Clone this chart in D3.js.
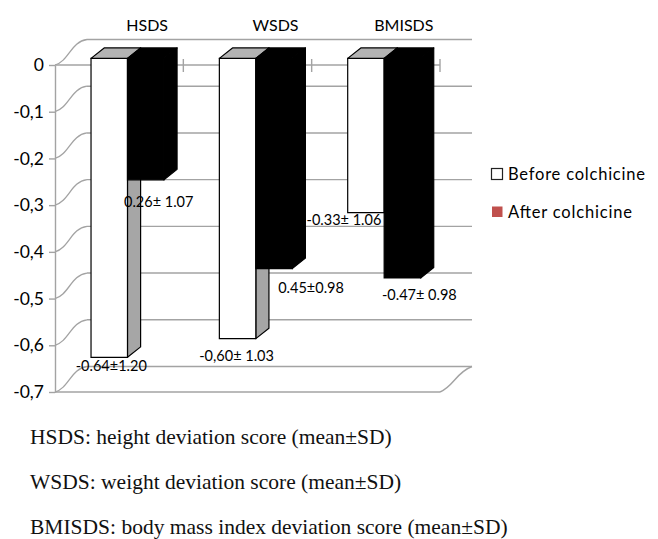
<!DOCTYPE html>
<html>
<head>
<meta charset="utf-8">
<script src="https://cdn.jsdelivr.net/npm/d3@7"></script>
<style>
  body { margin: 0; background: #fff; }
  svg { display: block; }
</style>
</head>
<body>
<svg id="chart" width="658" height="539"></svg>
<script>
// data
const categories = ["HSDS", "WSDS", "BMISDS"];
const seriesNames = ["Before colchicine", "After colchicine"];
const beforeValues = [-0.64, -0.60, -0.33];
const afterValues = [-0.26, -0.45, -0.47];
const beforeLabels = ["-0.64±1.20", "-0,60± 1.03", "-0.33± 1.06"];
const afterLabels = ["0.26± 1.07", "0.45±0.98", "-0.47± 0.98"];
const yTickValues = [0, -0.1, -0.2, -0.3, -0.4, -0.5, -0.6, -0.7];
const yTickLabels = ["0", "-0,1", "-0,2", "-0,3", "-0,4", "-0,5", "-0,6", "-0,7"];
const footnotes = [
  "HSDS: height deviation score (mean±SD)",
  "WSDS: weight deviation score (mean±SD)",
  "BMISDS: body mass index deviation score (mean±SD)"
];

const svg = d3.select("#chart");
const FONT = "Lato, 'Noto Sans', sans-serif";
const GRID = "#a3a3a3";

// 3d projection: depth t in [0,1] shifts up-right
const DX = 32;
const DY = -25.5;
const plot = { left: 55, right: 440, top: 65, bottom: 392 };

const y = d3.scaleLinear().domain([0, -0.7]).range([plot.top, plot.bottom]);
const x0 = d3.scaleBand().domain(categories).range([plot.left, plot.right]);
const x1 = d3.scaleBand().domain(seriesNames).range([0, x0.bandwidth()]).paddingOuter(0.76);

const P = (x, v, t) => [x + DX * t, y(v) + DY * t];
const poly = (pts) => "M" + pts.map((p) => p.join(",")).join("L") + "Z";

const wallG = svg.append("g");
const barsG = svg.append("g");
const labelG = svg.append("g");

// back wall gridlines
wallG.selectAll("line.back")
  .data(yTickValues)
  .join("line")
  .attr("class", "back")
  .attr("x1", (d) => P(plot.left, d, 1)[0])
  .attr("y1", (d) => P(plot.left, d, 1)[1])
  .attr("x2", (d) => P(plot.right, d, 1)[0])
  .attr("y2", (d) => P(plot.right, d, 1)[1])
  .attr("stroke", GRID)
  .attr("stroke-width", 1.4);

// side wall gridlines (slightly wavy like the original)
wallG.selectAll("path.side")
  .data(yTickValues)
  .join("path")
  .attr("class", "side")
  .attr("d", (d) => {
    const a = P(plot.left, d, 0);
    const b = P(plot.left, d, 1);
    return `M${a[0]},${a[1]}C${a[0] + 14},${a[1] - 4} ${b[0] - 16},${b[1] + 2} ${b[0]},${b[1]}`;
  })
  .attr("fill", "none")
  .attr("stroke", GRID)
  .attr("stroke-width", 1.3);

// floor at -0.7 and the front line at 0
[0, -0.7].forEach((v) => {
  const a = P(plot.left, v, 0);
  const b = P(plot.right, v, 0);
  wallG.append("line")
    .attr("x1", a[0]).attr("y1", a[1])
    .attr("x2", b[0]).attr("y2", b[1])
    .attr("stroke", GRID)
    .attr("stroke-width", 1.6);
});
{
  const a = P(plot.right, -0.7, 0);
  const b = P(plot.right, -0.7, 1);
  wallG.append("path")
    .attr("d", `M${a[0]},${a[1]}C${a[0] + 14},${a[1] - 6} ${b[0] - 16},${b[1] + 6} ${b[0]},${b[1]}`)
    .attr("fill", "none")
    .attr("stroke", GRID)
    .attr("stroke-width", 1.4);
}

// category tick marks on the 0 line
wallG.selectAll("line.cat-tick")
  .data(categories)
  .join("line")
  .attr("class", "cat-tick")
  .attr("x1", (d) => x0(d) + x0.bandwidth())
  .attr("x2", (d) => x0(d) + x0.bandwidth())
  .attr("y1", y(0) - 6)
  .attr("y2", y(0) + 7)
  .attr("stroke", GRID)
  .attr("stroke-width", 1.4);

// y axis
const yAxisG = svg.append("g")
  .attr("transform", `translate(${plot.left},0)`)
  .call(d3.axisLeft(y).tickValues(yTickValues).tickSize(6).tickSizeOuter(0)
    .tickFormat((d, i) => yTickLabels[i]));
yAxisG.select(".domain").attr("stroke", GRID).attr("stroke-width", 1.4);
yAxisG.selectAll(".tick line").attr("stroke", GRID).attr("stroke-width", 1.4);
yAxisG.selectAll(".tick text")
  .attr("x", -11)
  .attr("fill", "#000")
  .style("font-family", FONT)
  .style("font-size", "17.5px");

// category labels above the back wall
svg.selectAll("text.cat")
  .data(categories)
  .join("text")
  .attr("class", "cat")
  .attr("x", (d) => P(x0(d) + x0.bandwidth() / 2, 0, 1)[0] - 4)
  .attr("y", 31)
  .attr("text-anchor", "middle")
  .attr("fill", "#000")
  .style("font-family", FONT)
  .style("font-size", "16px")
  .text((d) => d);

// bars
const T0 = 0.26;
const T1 = 0.67;
const barStyles = [
  { front: "#ffffff", side: "#a6a6a6", top: "#b3b3b3" },
  { front: "#000000", side: "#000000", top: "#000000" }
];
const barData = [];
categories.forEach((c, i) => {
  [beforeValues[i], afterValues[i]].forEach((v, j) => {
    barData.push({ cat: c, series: seriesNames[j], j, v,
      label: j === 0 ? beforeLabels[i] : afterLabels[i], i });
  });
});

barData.forEach((d) => {
  const xl = x0(d.cat) + x1(d.series);
  const xr = xl + x1.bandwidth();
  const st = barStyles[d.j];
  const g = barsG.append("g");
  g.append("path")
    .attr("d", poly([P(xr, 0, T0), P(xr, 0, T1), P(xr, d.v, T1), P(xr, d.v, T0)]))
    .attr("fill", st.side).attr("stroke", "#000").attr("stroke-width", 1.2)
    .attr("stroke-linejoin", "round");
  g.append("path")
    .attr("d", poly([P(xl, 0, T0), P(xr, 0, T0), P(xr, d.v, T0), P(xl, d.v, T0)]))
    .attr("fill", st.front).attr("stroke", "#000").attr("stroke-width", 1.2);
  g.append("path")
    .attr("d", poly([P(xl, 0, T0), P(xr, 0, T0), P(xr, 0, T1), P(xl, 0, T1)]))
    .attr("fill", st.top).attr("stroke", "#000").attr("stroke-width", 1.2)
    .attr("stroke-linejoin", "round");
});

// data labels, nudged like the original
const labelShift = [[2, 8], [13, 22], [-1, 17], [37, 19], [-22, 7], [17, 17]];
labelG.selectAll("text")
  .data(barData)
  .join("text")
  .attr("x", (d, k) => P(x0(d.cat) + x1(d.series) + x1.bandwidth() / 2, d.v, T0)[0] + labelShift[k][0])
  .attr("y", (d, k) => P(0, d.v, T0)[1] + labelShift[k][1])
  .attr("dominant-baseline", "central")
  .attr("text-anchor", "middle")
  .attr("fill", "#000")
  .style("font-family", FONT)
  .style("font-size", "14.5px")
  .text((d) => d.label);

// legend (swatch colours as in the original figure)
const legendColors = ["#ffffff", "#c0504d"];
const legendWidths = [137, 124];
const legend = svg.append("g").attr("transform", "translate(491,168)");
seriesNames.forEach((s, i) => {
  const gy = i * 38;
  legend.append("rect")
    .attr("x", i === 0 ? 0.5 : 1)
    .attr("y", gy + 0.5)
    .attr("width", i === 0 ? 11 : 10.5)
    .attr("height", i === 0 ? 11 : 10.5)
    .attr("fill", legendColors[i])
    .attr("stroke", i === 0 ? "#222" : "none")
    .attr("stroke-width", 1.2);
  legend.append("text")
    .attr("x", 17)
    .attr("y", gy + 6)
    .attr("dominant-baseline", "central")
    .attr("textLength", legendWidths[i])
    .attr("lengthAdjust", "spacing")
    .attr("fill", "#000")
    .style("font-family", FONT)
    .style("font-size", "16.5px")
    .text(s);
});

// footnotes under the chart
svg.selectAll("text.note")
  .data(footnotes)
  .join("text")
  .attr("class", "note")
  .attr("x", 30)
  .attr("y", (d, i) => 444 + i * 45)
  .attr("fill", "#111")
  .style("font-family", "'Liberation Serif', 'Times New Roman', serif")
  .style("font-size", "21.5px")
  .text((d) => d);
</script>
</body>
</html>
